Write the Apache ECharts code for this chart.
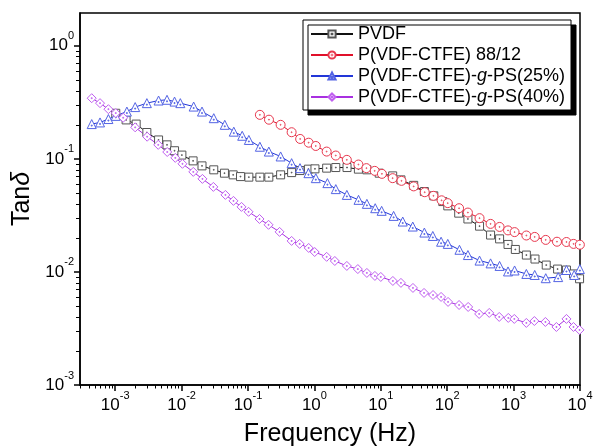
<!DOCTYPE html>
<html><head><meta charset="utf-8">
<script src="https://cdn.jsdelivr.net/npm/echarts@6/dist/echarts.min.js"></script>
<style>html,body{margin:0;padding:0;background:#fff}#c{width:593px;height:448px}</style>
</head><body><div id="c"></div>
<script>
// ---- data (frequency in Hz, tan delta) ----
const seriesNames = ['PVDF', 'P(VDF-CTFE) 88/12', 'P(VDF-CTFE)-g-PS(25%)', 'P(VDF-CTFE)-g-PS(40%)'];

const pvdfF = [1.02e-3,1.46e-3,2.07e-3,3.0e-3,4.5e-3,6.03e-3,7.83e-3,1.01e-2,1.49e-2,2.03e-2,3.05e-2,4.42e-2,5.98e-2,7.71e-2,0.103,0.151,0.206,0.310,0.454,0.607,0.813,1.02,1.53,2.10,3.10,4.6,6.17,9.46,15.1,20.1,31.3,45.3,62.8,85.9,102,149,205,307,450,615,824,1062,1556,2100,3100,4600,6252,8000,9850];
const pvdfT = [0.253,0.221,0.203,0.171,0.147,0.133,0.118,0.108,0.096,0.0867,0.080,0.0747,0.0722,0.0697,0.0689,0.0689,0.0689,0.0722,0.0756,0.0788,0.0811,0.0816,0.0828,0.0838,0.0838,0.0811,0.080,0.0747,0.0707,0.0652,0.0583,0.0514,0.0471,0.0419,0.0384,0.0331,0.0294,0.0254,0.0212,0.0196,0.0175,0.0158,0.0141,0.0130,0.0115,0.0106,0.0104,0.0096,0.0087];

const redF = [0.151,0.207,0.310,0.454,0.61,0.82,1.05,1.53,2.10,3.08,4.6,6.07,8.1,10.4,15.1,20.5,31.3,45.9,62,82.4,102,151,205,307,450,615,824,1035,1556,2080,3048,4500,6252,8000,9950];
const redT = [0.245,0.222,0.200,0.172,0.150,0.139,0.130,0.116,0.107,0.098,0.0891,0.0828,0.0783,0.0737,0.0675,0.0639,0.0571,0.0507,0.0471,0.0430,0.0406,0.0366,0.0335,0.0299,0.0266,0.025,0.0233,0.0225,0.0210,0.0204,0.0192,0.0185,0.0184,0.0177,0.0174];

const blueF = [4.43e-4,5.91e-4,7.9e-4,1.02e-3,1.5e-3,2.0e-3,3.0e-3,4.5e-3,6.03e-3,7.83e-3,9.57e-3,1.52e-2,2.03e-2,3.05e-2,4.47e-2,6.11e-2,8.18e-2,0.103,0.151,0.206,0.310,0.454,0.607,0.813,1.05,1.57,2.10,3.08,4.62,6.17,8.24,10.3,15.6,21.4,30.3,45.3,60.7,80.9,102,153,205,307,450,615,824,1035,1556,2080,3048,4690,6252,8180,9950];
const blueT = [0.203,0.210,0.225,0.240,0.262,0.287,0.311,0.328,0.333,0.321,0.311,0.290,0.262,0.229,0.200,0.174,0.160,0.147,0.128,0.116,0.105,0.0916,0.0828,0.0747,0.0675,0.0610,0.0540,0.048,0.0434,0.040,0.0366,0.0347,0.0313,0.0279,0.0252,0.0223,0.0208,0.0185,0.0177,0.0157,0.0141,0.0126,0.0119,0.0113,0.0101,0.0103,0.0096,0.0094,0.0088,0.0090,0.0104,0.0094,0.0106];

const purF = [4.43e-4,5.91e-4,7.9e-4,1.02e-3,1.32e-3,2.0e-3,3.03e-3,4.45e-3,6.08e-3,8.04e-3,1.03e-2,1.5e-2,2.06e-2,3.01e-2,4.57e-2,6.04e-2,7.98e-2,0.102,0.149,0.204,0.299,0.454,0.60,0.82,1.01,1.53,2.03,3.08,4.51,6.17,8.15,10.0,15.2,20.1,30.5,44.8,61.2,80.9,103,151,207,303,430,608,832,1025,1556,2056,3013,4416,6252,7980,9840];
const purT = [0.344,0.311,0.275,0.254,0.231,0.190,0.157,0.133,0.115,0.102,0.0904,0.0767,0.0665,0.0565,0.048,0.0425,0.0376,0.034,0.0294,0.0261,0.0226,0.0188,0.0177,0.0163,0.0150,0.0136,0.0125,0.0113,0.0106,0.0098,0.00922,0.00903,0.00832,0.0080,0.00722,0.00652,0.00625,0.00601,0.00543,0.0051,0.0049,0.00425,0.00434,0.0040,0.00392,0.00384,0.00354,0.00368,0.00361,0.00326,0.00384,0.00326,0.00307];

// tick labels (decade exponents)
const xTickExps = [-3,-2,-1,0,1,2,3,4];
const yTickExps = [-3,-2,-1,0];
const xRangeLog = [-3.53, 4];
const yRangeLog = [-3, 0.29];

// ---- build ----
const FONT = "'Liberation Sans', Arial, Helvetica, sans-serif";
function minorTicks(lo, hi){
  const r = [];
  for (let n = Math.floor(lo); n < Math.ceil(hi); n++)
    for (let k = 2; k <= 9; k++){ const v = n + Math.log10(k); if (v > lo && v < hi) r.push(v); }
  return r;
}
const toPts = (F, T) => F.map((f, i) => [Math.log10(f), Math.log10(T[i])]);
const labRich = {
  b: {fontSize: 17, fontFamily: FONT, color: '#000', lineHeight: 30},
  e: {fontSize: 11, fontFamily: FONT, color: '#000', lineHeight: 14, verticalAlign: 'top'}
};
const expFmt = v => '{b|10}{e|' + Math.round(v) + '}';

const SYM = {
  square: 'path://M0,0H10V10H0Z M4.5,4.5H5.5V5.5H4.5Z',
  circle: 'path://M10,5A5,5 0 1,1 0,5A5,5 0 1,1 10,5Z M5.5,5A0.5,0.5 0 1,1 4.5,5A0.5,0.5 0 1,1 5.5,5Z',
  triangle: 'path://M5,0L10,9L0,9Z M4.5,5.5H5.5V6.5H4.5Z',
  diamond: 'path://M5,0L10,5L5,10L0,5Z M4.5,4.5H5.5V5.5H4.5Z'
};
function mk(name, F, T, sym, size, lineColor, markColor){
  return {
    name, type: 'line', data: toPts(F, T), symbol: sym, symbolSize: size,
    showAllSymbol: true, animation: false,
    lineStyle: {color: lineColor, width: 1},
    itemStyle: {color: '#fff', borderColor: markColor, borderWidth: 1}
  };
}

const chart = echarts.init(document.getElementById('c'), null, {renderer: 'canvas'});
chart.setOption({
  backgroundColor: '#fff',
  animation: false,
  grid: {left: 80, right: 13, top: 13, bottom: 63, show: true, borderColor: '#000', borderWidth: 1.5,
         containLabel: false, outerBoundsMode: 'none'},
  legend: {
    orient: 'vertical', left: 303, top: 20,
    backgroundColor: '#fff', borderColor: '#000', borderWidth: 1,
    shadowColor: '#000', shadowOffsetX: 5, shadowOffsetY: 5, shadowBlur: 0,
    padding: [5, 6, 4, 7], itemGap: 3, itemWidth: 42, itemHeight: 9,
    data: seriesNames,
    textStyle: {fontFamily: FONT, fontSize: 18, color: '#000',
      rich: {i: {fontFamily: FONT, fontSize: 18, color: '#000', fontStyle: 'italic'}}},
    formatter: n => n.replace('-g-', '-{i|g}-')
  },
  xAxis: [{
    type: 'value', min: xRangeLog[0], max: xRangeLog[1],
    name: 'Frequency (Hz)', nameLocation: 'middle', nameGap: 37,
    nameTextStyle: {fontFamily: FONT, fontSize: 25, color: '#000'},
    axisLine: {show: true, onZero: false, lineStyle: {color: '#000', width: 1.5}},
    axisTick: {show: true, inside: false, length: 6, lineStyle: {color: '#000', width: 1.5}, customValues: xTickExps},
    axisLabel: {show: true, margin: 5, formatter: expFmt, rich: labRich, customValues: xTickExps},
    splitLine: {show: false}
  }, {
    type: 'value', min: xRangeLog[0], max: xRangeLog[1], position: 'bottom',
    axisLine: {show: false, onZero: false}, axisLabel: {show: false}, splitLine: {show: false},
    axisTick: {show: true, inside: false, length: 3.5, lineStyle: {color: '#000', width: 1}, customValues: minorTicks(xRangeLog[0], xRangeLog[1])}
  }],
  yAxis: [{
    type: 'value', min: yRangeLog[0], max: yRangeLog[1],
    name: '{n|Tan}{d|δ}', nameLocation: 'middle', nameGap: 36, nameRotate: 90,
    nameTextStyle: {rich: {n: {fontFamily: FONT, fontSize: 25, color: '#000'}, d: {fontFamily: FONT, fontSize: 25, color: '#000', fontStyle: 'italic'}}},
    axisLine: {show: true, onZero: false, lineStyle: {color: '#000', width: 1.5}},
    axisTick: {show: true, inside: false, length: 6, lineStyle: {color: '#000', width: 1.5}, customValues: yTickExps},
    axisLabel: {show: true, margin: 6, formatter: expFmt, rich: labRich, customValues: yTickExps},
    splitLine: {show: false}
  }, {
    type: 'value', min: yRangeLog[0], max: yRangeLog[1], position: 'left',
    axisLine: {show: false, onZero: false}, axisLabel: {show: false}, splitLine: {show: false},
    axisTick: {show: true, inside: false, length: 4, lineStyle: {color: '#000', width: 1}, customValues: minorTicks(yRangeLog[0], yRangeLog[1])}
  }],
  series: [
    mk(seriesNames[0], pvdfF, pvdfT, SYM.square, 8, '#111111', '#555555'),
    mk(seriesNames[1], redF, redT, SYM.circle, 9, '#e0102a', '#e8384e'),
    mk(seriesNames[2], blueF, blueT, SYM.triangle, 9, '#2236d8', '#5464e4'),
    mk(seriesNames[3], purF, purT, SYM.diamond, 9, '#a830e0', '#c060f0')
  ]
});
</script></body></html>
